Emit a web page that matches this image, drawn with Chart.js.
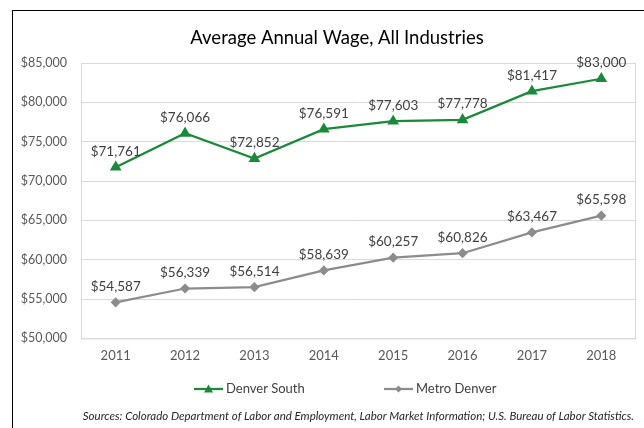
<!DOCTYPE html>
<html>
<head>
<meta charset="utf-8">
<script src="https://cdn.jsdelivr.net/npm/chart.js@4"></script>
<style>
  html, body { margin: 0; padding: 0; background: #fff; }
  #wrap { position: relative; width: 644px; height: 428px; }
  #frame { position: absolute; left: 12px; top: 10px; right: -2px; bottom: -2px; border-left: 1.5px solid #000; border-top: 1.5px solid #000; pointer-events: none; }
</style>
</head>
<body>
<div id="wrap">
  <canvas id="wageChart" width="644" height="428"></canvas>
  <div id="frame"></div>
</div>
<script>
const years = ['2011', '2012', '2013', '2014', '2015', '2016', '2017', '2018'];
const denverSouth = [71761, 76066, 72852, 76591, 77603, 77778, 81417, 83000];
const metroDenver = [54587, 56339, 56514, 58639, 60257, 60826, 63467, 65598];
const yTicks = [50000, 55000, 60000, 65000, 70000, 75000, 80000, 85000];
const chartTitle = 'Average Annual Wage, All Industries';
const sourceNote = 'Sources: Colorado Department of Labor and Employment, Labor Market Information; U.S. Bureau of Labor Statistics.';

const FONT = 'Lato, "Open Sans", sans-serif';
const green = '#1a8a3a';
const gray = '#8c8c8c';

const money = v => '$' + v.toLocaleString('en-US');

function drawMarker(ctx, style, x, y, color) {
    ctx.fillStyle = color;
    ctx.beginPath();
    if (style === 'triangle') {
        ctx.moveTo(x, y - 4.5); ctx.lineTo(x + 4.5, y + 3.5); ctx.lineTo(x - 4.5, y + 3.5);
    } else {
        ctx.moveTo(x, y - 3.5); ctx.lineTo(x + 3.5, y); ctx.lineTo(x, y + 3.5); ctx.lineTo(x - 3.5, y);
    }
    ctx.closePath();
    ctx.fill();
}

// title, data labels, plot frame, legend with line+marker icons, source note
const extrasPlugin = {
    id: 'extras',
    afterDatasetsDraw(chart) {
        const ctx = chart.ctx;
        const area = chart.chartArea;
        ctx.save();
        ctx.strokeStyle = '#d9d9d9';
        ctx.lineWidth = 1;
        ctx.strokeRect(area.left + 0.5, area.top + 0.5, area.right - area.left - 1, area.bottom - area.top);

        ctx.font = '18.5px ' + FONT;
        ctx.fillStyle = '#000';
        ctx.textAlign = 'center';
        ctx.textBaseline = 'middle';
        ctx.fillText(chartTitle, 337, 38);

        ctx.font = '13.5px ' + FONT;
        ctx.fillStyle = '#404040';
        ctx.textBaseline = 'bottom';
        chart.data.datasets.forEach((ds, i) => {
            chart.getDatasetMeta(i).data.forEach((pt, j) => {
                ctx.fillText(money(ds.data[j]), pt.x, pt.y - 9);
            });
        });

        // legend
        ctx.font = '13px ' + FONT;
        ctx.textAlign = 'left';
        ctx.textBaseline = 'middle';
        const legendY = 389;
        const starts = [194, 384];
        chart.data.datasets.forEach((ds, i) => {
            const x = starts[i];
            ctx.strokeStyle = ds.borderColor;
            ctx.lineWidth = 2.25;
            ctx.beginPath(); ctx.moveTo(x, legendY); ctx.lineTo(x + 29, legendY); ctx.stroke();
            drawMarker(ctx, i === 0 ? 'triangle' : 'diamond', x + 14.5, legendY, ds.borderColor);
            ctx.fillStyle = '#404040';
            ctx.fillText(ds.label, x + 32, legendY);
        });

        ctx.font = 'italic 11.5px ' + FONT;
        ctx.textAlign = 'right';
        ctx.fillStyle = '#262626';
        ctx.fillText(sourceNote, 634, 416);
        ctx.restore();
    }
};

new Chart(document.getElementById('wageChart'), {
    type: 'line',
    data: {
        labels: years,
        datasets: [
            {
                label: 'Denver South',
                data: denverSouth,
                borderColor: green,
                backgroundColor: green,
                borderWidth: 2.25,
                pointStyle: 'triangle',
                pointRadius: 4.5,
                tension: 0
            },
            {
                label: 'Metro Denver',
                data: metroDenver,
                borderColor: gray,
                backgroundColor: gray,
                borderWidth: 2.25,
                pointStyle: 'rectRot',
                pointRadius: 3.5,
                tension: 0
            }
        ]
    },
    options: {
        responsive: false,
        animation: false,
        layout: { padding: { left: 14, right: 8, top: 63, bottom: 62 } },
        scales: {
            x: {
                offset: true,
                grid: { display: false },
                border: { color: '#d9d9d9' },
                ticks: { color: '#595959', font: { family: FONT, size: 13 }, padding: 2 }
            },
            y: {
                min: 50000,
                max: 85000,
                afterFit: s => { s.width = 67; },
                afterBuildTicks: s => { s.ticks = yTicks.map(v => ({ value: v })); },
                grid: { color: '#d9d9d9', drawTicks: false },
                border: { display: false },
                ticks: {
                    color: '#595959',
                    font: { family: FONT, size: 12.5 },
                    padding: 14,
                    callback: v => money(v)
                }
            }
        },
        plugins: {
            title: { display: false },
            legend: { display: false },
            tooltip: { enabled: false }
        }
    },
    plugins: [extrasPlugin]
});
</script>
</body>
</html>
